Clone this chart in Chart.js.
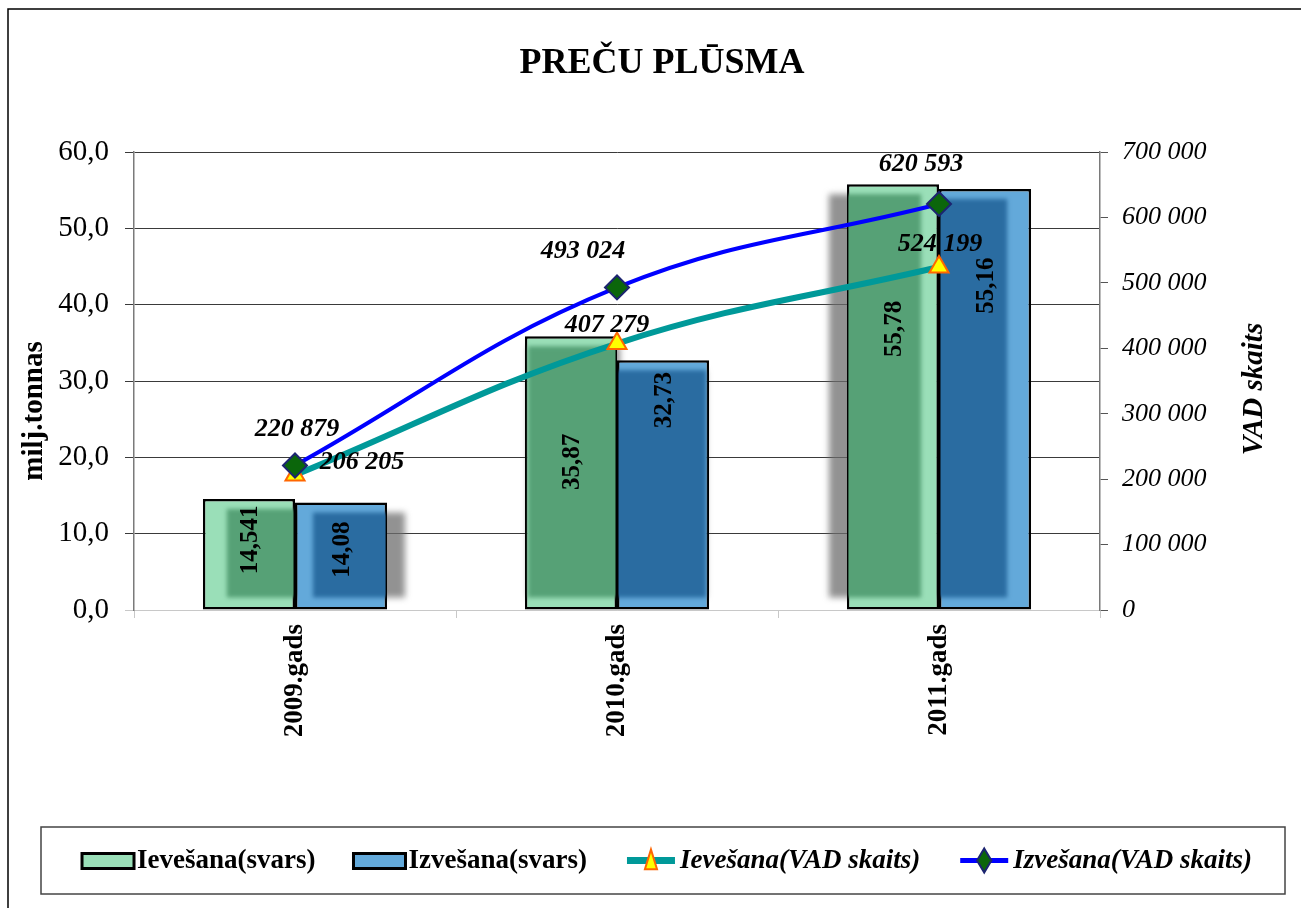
<!DOCTYPE html>
<html>
<head>
<meta charset="utf-8">
<title>Preču plūsma</title>
<script src="https://cdn.jsdelivr.net/npm/chart.js@4.4.1/dist/chart.umd.min.js"></script>
<style>
  html, body { margin: 0; padding: 0; background: #fff; }
  #wrap { width: 1301px; height: 908px; }
</style>
</head>
<body>
<div id="wrap"><canvas id="flowChart" width="1301" height="908"></canvas></div>
<script>
/* =========================================================
   Preču plūsma — bars (milj.tonnas) + lines (VAD skaits)
========================================================= */

/* ---- Data ---- */
const YEARS         = ['2009.gads', '2010.gads', '2011.gads'];
const IMPORT_WEIGHT = [14.541, 35.87, 55.78];
const EXPORT_WEIGHT = [14.08, 32.73, 55.16];
const IMPORT_VAD    = [206205, 407279, 524199];
const EXPORT_VAD    = [220879, 493024, 620593];
const WEIGHT_TICKS  = [0, 10, 20, 30, 40, 50, 60];
const VAD_TICKS     = [0, 100000, 200000, 300000, 400000, 500000, 600000, 700000];

/* ---- Look ---- */
const SERIF       = '"Liberation Serif", "Times New Roman", serif';
const GREEN_LIGHT = '#9ADFB8';
const GREEN_DARK  = '#56A176';
const BLUE_LIGHT  = '#63A9DA';
const BLUE_DARK   = '#2A6CA1';
const TEAL        = '#009999';
const BLUE_LINE   = '#0000FF';

// label placement tweaks (pixels / fractions), copied by eye from the original
const LINE_LABEL_NUDGE = {
  2: [[67, -13], [-10, -18], [1, -23]],
  3: [[2, -36], [-34, -36], [-18, -40]]
};
const BAR_LABEL_POS = { 0: [0.37, 0.46, 0.34], 1: [0.44, 0.16, 0.23] };

const fmtWeight = v => String(v).replace('.', ',');
const fmtVad    = v => String(v).replace(/\B(?=(\d{3})+(?!\d))/g, ' ');

Chart.defaults.font.family = SERIF;
Chart.defaults.color = '#000';

/* ---- Frame, title, axis titles ---- */
function drawVerticalText(c, text, font, x, y) {
  c.save();
  c.fillStyle = '#000';
  c.font = font;
  c.textAlign = 'center';
  c.textBaseline = 'middle';
  c.translate(x, y);
  c.rotate(-Math.PI / 2);
  c.fillText(text, 0, 0);
  c.restore();
}

const framePlugin = {
  id: 'frame',
  beforeDraw(chart) {
    const c = chart.ctx;
    c.save();
    c.fillStyle = '#fff';
    c.fillRect(0, 0, chart.width, chart.height);
    c.strokeStyle = '#000';
    c.lineWidth = 1.5;
    c.beginPath();
    c.moveTo(8, chart.height);
    c.lineTo(8, 9);
    c.lineTo(chart.width, 9);
    c.stroke();
    c.fillStyle = '#000';
    c.font = `bold 36px ${SERIF}`;
    c.textAlign = 'center';
    c.textBaseline = 'middle';
    c.fillText('PREČU PLŪSMA', 662, 64);
    c.restore();
  },
  afterDraw(chart) {
    // both axis titles read bottom-to-top like the original
    const mid = (chart.chartArea.top + chart.chartArea.bottom) / 2;
    drawVerticalText(chart.ctx, 'milj.tonnas', `bold 29px ${SERIF}`, chart.scales.y.left + 23, mid + 30);
    drawVerticalText(chart.ctx, 'VAD skaits', `italic bold 29px ${SERIF}`, chart.scales.y1.right - 20, mid + 8);
  }
};

/* ---- Bar shadows (Excel-like perspective shade) ---- */
function shadowRect(chart, bar) {
  const mid = (chart.chartArea.left + chart.chartArea.right) / 2;
  const dx = (mid - bar.x) * 0.065;
  return {
    l: bar.x - bar.width / 2 + dx,
    r: bar.x + bar.width / 2 + dx,
    t: bar.y + 10,
    b: bar.base - 12
  };
}

const shadePlugin = {
  id: 'shade',
  beforeDatasetsDraw(chart) {
    const c = chart.ctx;
    c.save();
    c.filter = 'blur(3px)';
    c.fillStyle = 'rgba(110,110,110,0.75)';
    [0, 1].forEach(i => {
      chart.getDatasetMeta(i).data.forEach(bar => {
        const s = shadowRect(chart, bar);
        c.fillRect(s.l, s.t, s.r - s.l, s.b - s.t);
      });
    });
    c.restore();
  },
  afterDatasetDraw(chart, args) {
    if (args.meta.type !== 'bar') return;
    const c = chart.ctx;
    const dark = args.index === 0 ? GREEN_DARK : BLUE_DARK;
    args.meta.data.forEach(bar => {
      const s = shadowRect(chart, bar);
      c.save();
      c.beginPath();
      c.rect(bar.x - bar.width / 2 + 1.5, bar.y + 1.5, bar.width - 3, bar.base - bar.y - 3);
      c.clip();
      c.filter = 'blur(2px)';
      c.fillStyle = dark;
      c.fillRect(s.l, s.t, s.r - s.l, s.b - s.t);
      c.restore();
    });
  }
};

/* ---- Value labels ---- */
const labelPlugin = {
  id: 'valueLabels',
  afterDatasetsDraw(chart) {
    const c = chart.ctx;
    c.save();
    c.fillStyle = '#000';
    c.textAlign = 'center';
    c.textBaseline = 'middle';

    // bars: rotated, inside the bar
    c.font = `bold 25px ${SERIF}`;
    [0, 1].forEach(i => {
      const ds = chart.data.datasets[i];
      chart.getDatasetMeta(i).data.forEach((bar, j) => {
        const y = bar.y + (bar.base - bar.y) * BAR_LABEL_POS[i][j];
        c.save();
        c.translate(bar.x + 2, y);
        c.rotate(-Math.PI / 2);
        c.fillText(fmtWeight(ds.data[j]), 0, 0);
        c.restore();
      });
    });

    // lines: bold italic near the markers
    c.font = `italic bold 26px ${SERIF}`;
    [2, 3].forEach(i => {
      const ds = chart.data.datasets[i];
      chart.getDatasetMeta(i).data.forEach((pt, j) => {
        const n = LINE_LABEL_NUDGE[i][j];
        c.fillText(fmtVad(ds.data[j]), pt.x + n[0], pt.y + n[1]);
      });
    });
    c.restore();
  }
};

/* ---- Boxed legend with line+marker swatches ---- */
const legendPlugin = {
  id: 'boxLegend',
  afterDraw(chart) {
    const c = chart.ctx;
    const box = { l: 41, t: 827, r: 1285, b: 894 };
    const cy = (box.t + box.b) / 2;
    c.save();
    c.strokeStyle = '#444';
    c.lineWidth = 1.5;
    c.strokeRect(box.l, box.t, box.r - box.l, box.b - box.t);

    const items = chart.data.datasets.map(ds => ({
      ds,
      font: ds.type === 'line' ? `italic bold 27px ${SERIF}` : `bold 27px ${SERIF}`
    }));
    const sw = 52, gapIn = 3, gapOut = 38;
    let total = 0;
    items.forEach((it, k) => {
      c.font = it.font;
      it.w = c.measureText(it.ds.label).width;
      total += sw + gapIn + it.w + (k < items.length - 1 ? gapOut : 0);
    });
    let x = 667 - total / 2;
    items.forEach(it => {
      const ds = it.ds;
      const mx = x + sw / 2;
      if (ds.type === 'line') {
        c.strokeStyle = ds.borderColor;
        c.lineWidth = ds.borderWidth + 1;
        c.beginPath();
        c.moveTo(x + 2, cy);
        c.lineTo(x + sw - 2, cy);
        c.stroke();
        c.fillStyle = ds.pointBackgroundColor;
        c.strokeStyle = ds.pointBorderColor;
        c.lineWidth = ds.pointBorderWidth;
        c.beginPath();
        const r = ds.pointRadius;
        if (ds.pointStyle === 'triangle') {
          c.moveTo(mx, cy - r);
          c.lineTo(mx + r * 0.55, cy + r * 0.8);
          c.lineTo(mx - r * 0.55, cy + r * 0.8);
        } else {
          c.moveTo(mx, cy - r);
          c.lineTo(mx + r * 0.6, cy);
          c.lineTo(mx, cy + r);
          c.lineTo(mx - r * 0.6, cy);
        }
        c.closePath();
        c.fill();
        c.stroke();
      } else {
        c.fillStyle = ds.backgroundColor;
        c.strokeStyle = '#000';
        c.lineWidth = 3;
        c.fillRect(x, cy - 7, sw, 15);
        c.strokeRect(x, cy - 7, sw, 15);
      }
      c.fillStyle = '#000';
      c.font = it.font;
      c.textAlign = 'left';
      c.textBaseline = 'middle';
      c.fillText(ds.label, x + sw + gapIn, cy + 1);
      x += sw + gapIn + it.w + gapOut;
    });
    c.restore();
  }
};

/* ---- Chart ---- */
const ctx = document.getElementById('flowChart').getContext('2d');
new Chart(ctx, {
  type: 'bar',
  data: {
    labels: YEARS,
    datasets: [
      {
        label: 'Ievešana(svars)',
        data: IMPORT_WEIGHT,
        yAxisID: 'y',
        backgroundColor: GREEN_LIGHT,
        borderColor: '#000',
        borderWidth: 2.5,
        borderSkipped: false,
        categoryPercentage: 0.572,
        barPercentage: 1,
        order: 2
      },
      {
        label: 'Izvešana(svars)',
        data: EXPORT_WEIGHT,
        yAxisID: 'y',
        backgroundColor: BLUE_LIGHT,
        borderColor: '#000',
        borderWidth: 2.5,
        borderSkipped: false,
        categoryPercentage: 0.572,
        barPercentage: 1,
        order: 2
      },
      {
        type: 'line',
        label: 'Ievešana(VAD skaits)',
        data: IMPORT_VAD,
        yAxisID: 'y1',
        borderColor: TEAL,
        borderWidth: 6,
        tension: 0.4,
        pointStyle: 'triangle',
        pointRadius: 11,
        pointBackgroundColor: '#FFFF00',
        pointBorderColor: '#FF6600',
        pointBorderWidth: 2,
        order: 1
      },
      {
        type: 'line',
        label: 'Izvešana(VAD skaits)',
        data: EXPORT_VAD,
        yAxisID: 'y1',
        borderColor: BLUE_LINE,
        borderWidth: 4,
        tension: 0.4,
        pointStyle: 'rectRot',
        pointRadius: 12,
        pointBackgroundColor: '#0B660B',
        pointBorderColor: '#1C2470',
        pointBorderWidth: 2,
        order: 0
      }
    ]
  },
  options: {
    responsive: false,
    animation: false,
    layout: { padding: { left: 12, right: 26, top: 152, bottom: 148 } },
    plugins: {
      legend: { display: false },
      title: { display: false },
      tooltip: { enabled: false }
    },
    scales: {
      x: {
        offset: true,
        border: { color: '#c8c8c8', width: 1 },
        grid: { drawOnChartArea: false, color: '#c8c8c8', tickLength: 8, offset: true },
        ticks: {
          minRotation: 90,
          maxRotation: 90,
          padding: 6,
          font: { size: 27, weight: 'bold' }
        },
        afterFit: s => { s.height = 150; }
      },
      y: {
        position: 'left',
        min: WEIGHT_TICKS[0],
        max: WEIGHT_TICKS[WEIGHT_TICKS.length - 1],
        afterBuildTicks: s => { s.ticks = WEIGHT_TICKS.map(v => ({ value: v })); },
        border: { color: '#7a7a7a', width: 1.5 },
        grid: {
          color: c => c.tick && c.tick.value === 0 ? '#c8c8c8' : '#3a3a3a',
          lineWidth: 1,
          tickLength: 9
        },
        ticks: {
          padding: 16,
          font: { size: 29 },
          callback: v => v.toFixed(1).replace('.', ',')
        },
        afterFit: s => { s.width = 122; }
      },
      y1: {
        position: 'right',
        min: VAD_TICKS[0],
        max: VAD_TICKS[VAD_TICKS.length - 1],
        afterBuildTicks: s => { s.ticks = VAD_TICKS.map(v => ({ value: v })); },
        border: { color: '#7a7a7a', width: 1.5 },
        grid: { drawOnChartArea: false, color: '#555', tickLength: 8 },
        ticks: {
          padding: 14,
          font: { size: 26, style: 'italic' },
          callback: v => fmtVad(v)
        },
        afterFit: s => { s.width = 175; }
      }
    }
  },
  plugins: [framePlugin, shadePlugin, labelPlugin, legendPlugin]
});
</script>
</body>
</html>
